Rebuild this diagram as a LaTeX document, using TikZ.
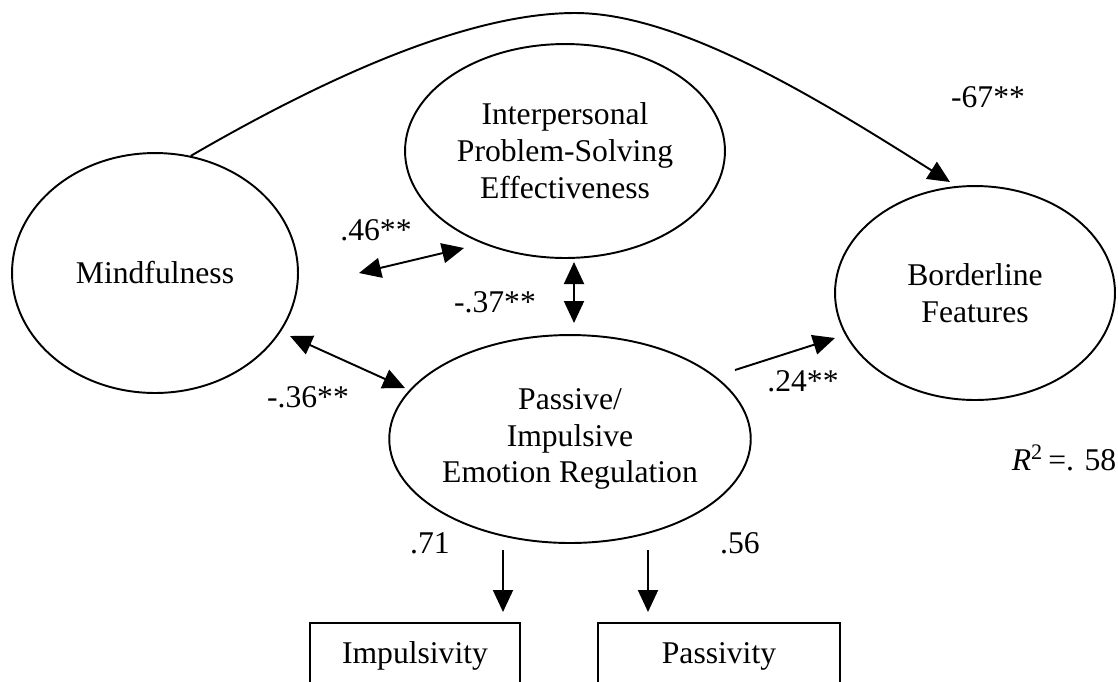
\documentclass[tikz,border=0pt]{standalone}
\usepackage{fontspec}
\setmainfont{Liberation Serif}
\usetikzlibrary{arrows.meta,shapes.geometric}
\begin{document}
\begin{tikzpicture}[x=0.02cm,y=-0.02cm,line width=1.1pt,
  font=\fontsize{18}{21}\selectfont,
  latent/.style={draw,ellipse,inner sep=0pt,align=center},
  observed/.style={draw,rectangle,inner sep=0pt,anchor=north,text height=0.82cm,text depth=0.94cm},
  path/.style={-{Triangle[length=0.44cm,width=0.4cm]}},
  corr/.style={{Triangle[length=0.44cm,width=0.4cm]}-{Triangle[length=0.44cm,width=0.4cm]}}]
  \useasboundingbox (0,0) rectangle (1118,681);
  \node[latent,minimum width=5.72cm,minimum height=4.8cm] (mind) at (155,273) {Mindfulness};
  \node[latent,minimum width=6.4cm,minimum height=4.28cm] (ipse) at (565,151) {Interpersonal\\Problem-Solving\\Effectiveness};
  \node[latent,minimum width=7.12cm,minimum height=4.16cm] (pier) at (570,439) {Passive/\\Impulsive\\Emotion Regulation};
  \node[latent,minimum width=5.6cm,minimum height=4.28cm] (bord) at (975,293) {Borderline\\Features};
  \node[observed,minimum width=4.2cm] (imp) at (415,622) {Impulsivity};
  \node[observed,minimum width=4.84cm] (pas) at (719,622) {Passivity};
  \coordinate (bordtop) at (950,182);
  \coordinate (a46l) at (359,273);
  \coordinate (a46r) at (464,248);
  \coordinate (a37t) at (574,262);
  \coordinate (a37b) at (574,323);
  \coordinate (a36l) at (290,336);
  \coordinate (a36r) at (405,388);
  \coordinate (a24l) at (735,370);
  \coordinate (a24r) at (835,338);
  \coordinate (impt) at (503,550);
  \coordinate (impb) at (503,612);
  \coordinate (past) at (648,550);
  \coordinate (pasb) at (648,612);
  \draw[path] (mind.73) .. controls (330,75) and (470,13) .. (575,13)
    .. controls (680,13) and (820,100) .. (bordtop);
  \draw[corr] (a46l) -- (a46r);
  \draw[corr] (a37t) -- (a37b);
  \draw[corr] (a36l) -- (a36r);
  \draw[path] (a24l) -- (a24r);
  \draw[path] (impt) -- (impb);
  \draw[path] (past) -- (pasb);
  \node (l67) at (988,97) {-67**};
  \node (l46) at (376,230) {.46**};
  \node (l37) at (495,302) {-.37**};
  \node (l36) at (308,397) {-.36**};
  \node (l24) at (803,381) {.24**};
  \node (l71) at (430,543) {.71};
  \node (l56) at (740,543) {.56};
  \node (rsq) at (1064,458) {\textit{R}\textsuperscript{2}\,=. 58};
\end{tikzpicture}
\end{document}
